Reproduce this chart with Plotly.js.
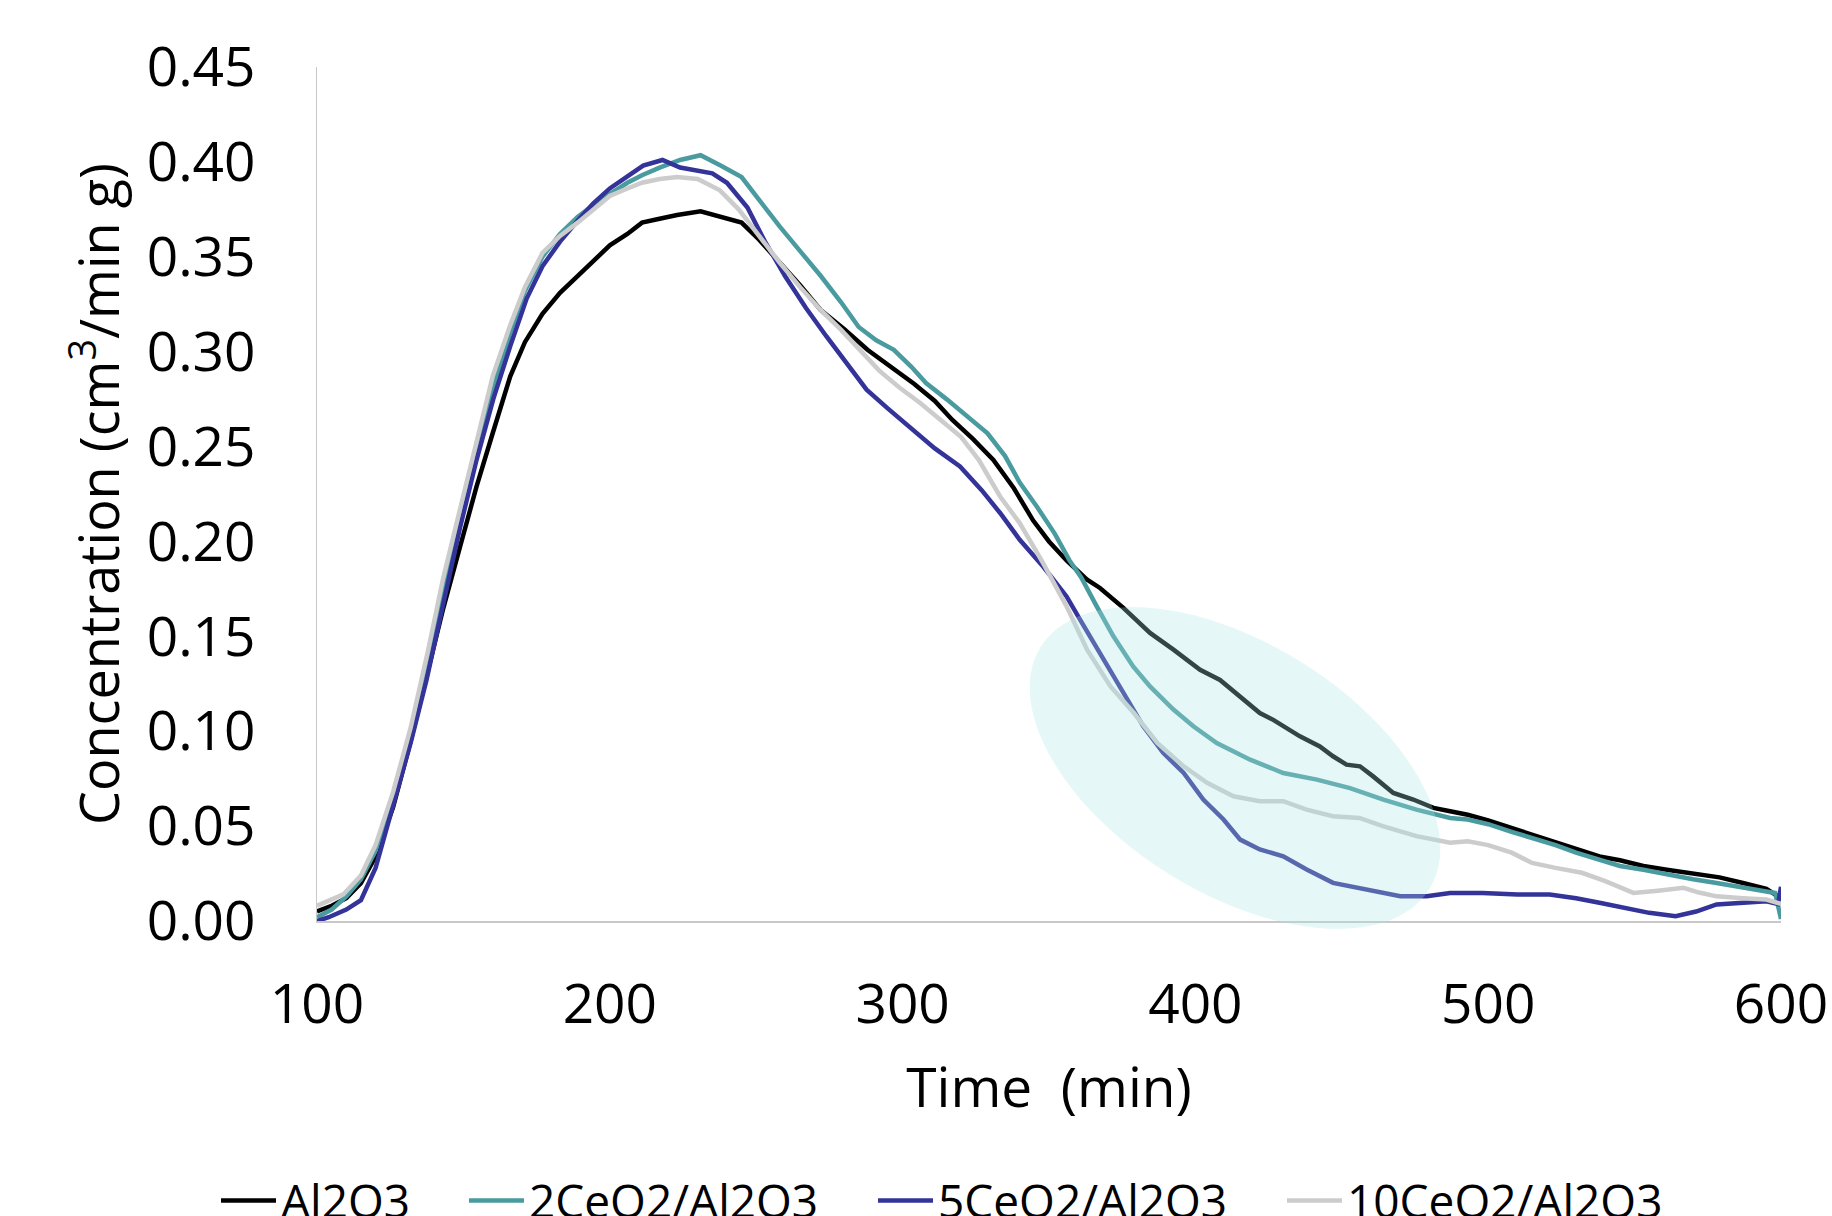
<!DOCTYPE html>
<html>
<head>
<meta charset="utf-8">
<script src="https://cdn.plot.ly/plotly-3.0.1.min.js"></script>
<style>html,body{margin:0;padding:0;background:#fff;}</style>
</head>
<body>
<div id="chart" style="width:1832px;height:1216px;"></div>
<script>
// ---- Data ----
const seriesNames = ["Al2O3", "2CeO2/Al2O3", "5CeO2/Al2O3", "10CeO2/Al2O3"];

const al2o3_t = [100,105,110,115,120,126,132,138,143,149,154.5,160,166,171,177,183,189,195,200,206,211,217,223,231,238,245,251,258,265,272,280,288,296,304,311,317,324,331,338,344.6,350,356,362.9,367.4,375.4,384.5,392.5,401.6,408.4,415.3,422,426.6,435.7,442.5,447,451.6,456.2,460.7,467.6,474.4,481.3,487,493,500,508,515,523,530,538,545,553,561,570,579,587,595,600];
const al2o3_c = [0.005,0.008,0.012,0.02,0.034,0.06,0.095,0.133,0.164,0.198,0.229,0.257,0.287,0.305,0.32,0.331,0.34,0.349,0.356,0.362,0.368,0.37,0.372,0.374,0.371,0.368,0.359,0.347,0.335,0.322,0.312,0.301,0.292,0.283,0.274,0.264,0.254,0.243,0.228,0.211,0.2,0.19,0.18,0.1755,0.165,0.1518,0.143,0.1324,0.127,0.1184,0.1096,0.106,0.0973,0.092,0.0868,0.0824,0.0815,0.0762,0.0675,0.064,0.0596,0.0578,0.056,0.053,0.049,0.045,0.041,0.038,0.034,0.032,0.029,0.027,0.025,0.023,0.02,0.017,0.012];

const ce2_t = [100,105,110,115,120,126,132,138,143,149,154.5,160,166,171,177,183,189,195,200,206,211,217,224,231,238,245,251,258,265,272,279,285,291,297,303,308,315,322,329,335,340,346,352,357,361,366.3,372,378.8,384.5,392.5,399.3,407.3,418.7,430,441.5,452.8,464.2,475.5,487,493,500,508,515,523,530,538,545,553,561,570,578,584,592,598,600];
const ce2_c = [0.002,0.006,0.013,0.022,0.037,0.064,0.099,0.14,0.175,0.213,0.248,0.281,0.31,0.332,0.35,0.362,0.371,0.378,0.383,0.389,0.393,0.397,0.401,0.4035,0.398,0.392,0.38,0.366,0.353,0.34,0.326,0.313,0.306,0.301,0.292,0.2835,0.275,0.266,0.257,0.245,0.231,0.218,0.204,0.19,0.181,0.1658,0.15,0.134,0.1236,0.1114,0.1026,0.0938,0.085,0.078,0.0745,0.07,0.064,0.0587,0.0543,0.0535,0.051,0.047,0.0438,0.04,0.036,0.0324,0.029,0.027,0.0245,0.022,0.02,0.0183,0.016,0.0148,0.001];

const ce5_t = [100,104,110,115,120,126,132,137.4,143,148.8,154.5,160.2,166,171.6,177,183,189,194.3,200,206,211.4,218,224,235,240,247,253,260,267,274,281,287.7,295,303.6,311,319.6,327,333.3,340,348,356,360.6,367.4,375.4,382.2,389,396,402.7,409.6,415.3,422,430,438,447,458.5,470,479,487,498,510,521,530,538,547,555,564,571,578,587,595,599,600];
const ce5_c = [0.0,0.002,0.006,0.011,0.028,0.062,0.094,0.127,0.167,0.207,0.243,0.275,0.303,0.328,0.345,0.358,0.369,0.378,0.386,0.392,0.398,0.401,0.397,0.394,0.389,0.376,0.358,0.3395,0.323,0.308,0.294,0.28,0.27,0.259,0.249,0.2395,0.227,0.215,0.2009,0.1868,0.171,0.1588,0.141,0.12,0.1026,0.0886,0.078,0.064,0.0535,0.0429,0.0377,0.0341,0.0271,0.0201,0.0166,0.013,0.013,0.0148,0.0148,0.014,0.014,0.012,0.0096,0.007,0.0043,0.0025,0.005,0.0087,0.0095,0.0104,0.009,0.018];

const ce10_t = [100,105,109,115,120,126,132,138,143,149,154.5,160,166,171,177,183,189,195,200,206,211,217,223,230,237.6,244,251,258,265,272,279,286,292,299,306,313,320,326,333.3,340,348,356,363,371,379,387,396,404,413,422,430,438,447,456,464,475.5,487,493,500,508,515,523,532,540,549.6,558,566.7,572,578,587,595,600];
const ce10_c = [0.008,0.011,0.014,0.024,0.04,0.068,0.102,0.143,0.18,0.218,0.253,0.287,0.314,0.334,0.352,0.361,0.368,0.376,0.382,0.386,0.389,0.391,0.392,0.391,0.385,0.375,0.3606,0.347,0.334,0.322,0.3115,0.3,0.29,0.281,0.273,0.264,0.255,0.243,0.2237,0.2097,0.1886,0.1658,0.143,0.1236,0.1096,0.0938,0.0815,0.0728,0.0657,0.0631,0.0631,0.0587,0.0552,0.0543,0.05,0.0447,0.0412,0.042,0.04,0.036,0.0306,0.028,0.0254,0.021,0.0148,0.016,0.0175,0.015,0.013,0.012,0.0113,0.009];

const seriesColors = ["#000000", "#4a9ba0", "#333399", "#cccccc"];
const xTickVals = [100, 200, 300, 400, 500, 600];
const yTickVals = [0, 0.05, 0.1, 0.15, 0.2, 0.25, 0.3, 0.35, 0.4, 0.45];

// ---- Layout geometry ----
const W = 1832, H = 1216;
const M = {l: 317, r: 51, t: 67, b: 295, autoexpand: false};
const plotW = W - M.l - M.r, plotH = H - M.t - M.b;
const FONT = "'Open Sans', 'Noto Sans', sans-serif";

// highlight ellipse (pixel geometry, converted to paper coords)
const ell = {cx: 1235, cy: 768, a: 229, b: 125, angleDeg: 31.9};
function ellipsePath(e) {
  const th = e.angleDeg * Math.PI / 180;
  let p = "";
  for (let i = 0; i <= 96; i++) {
    const f = 2 * Math.PI * i / 96;
    const X = e.cx + e.a * Math.cos(f) * Math.cos(th) - e.b * Math.sin(f) * Math.sin(th);
    const Y = e.cy + e.a * Math.cos(f) * Math.sin(th) + e.b * Math.sin(f) * Math.cos(th);
    const xp = (X - M.l) / plotW, yp = (M.t + plotH - Y) / plotH;
    p += (i === 0 ? "M" : "L") + xp.toFixed(5) + "," + yp.toFixed(5);
  }
  return p + "Z";
}

const tData = [al2o3_t, ce2_t, ce5_t, ce10_t];
const cData = [al2o3_c, ce2_c, ce5_c, ce10_c];
const legendIds = ["legend", "legend2", "legend3", "legend4"];
const legendLeftPx = [216, 464, 873, 1282];

const traces = seriesNames.map((n, i) => ({
  x: tData[i], y: cData[i], name: n, type: "scatter", mode: "lines",
  line: {color: seriesColors[i], width: 4.5},
  legend: legendIds[i]
}));

const layout = {
  width: W, height: H,
  margin: M,
  paper_bgcolor: "#ffffff", plot_bgcolor: "#ffffff",
  font: {family: FONT, color: "#000000", size: 55},
  showlegend: true,
  xaxis: {
    range: [100, 600], tickvals: xTickVals, ticktext: xTickVals.map(String),
    showgrid: false, zeroline: false, showline: true, linecolor: "#c8c8c8", linewidth: 1.5,
    ticks: "", ticklabelstandoff: 34, automargin: false,
    tickfont: {family: FONT, size: 55, color: "#000"},
    title: {text: "Time\u00a0 (min)", font: {family: FONT, size: 55, color: "#000"}, standoff: 31}
  },
  yaxis: {
    range: [0, 0.45], tickvals: yTickVals, ticktext: yTickVals.map(v => v.toFixed(2)),
    showgrid: false, zeroline: false, showline: true, linecolor: "#c8c8c8", linewidth: 1.5,
    ticks: "", ticklabelstandoff: 49, automargin: false,
    tickfont: {family: FONT, size: 55, color: "#000"},
    title: {text: "Concentration (cm<sup>3</sup>/min g)", font: {family: FONT, size: 54, color: "#000"}, standoff: 10}
  },
  shapes: [{
    type: "path", xref: "paper", yref: "paper", layer: "above",
    path: ellipsePath(ell),
    fillcolor: "rgba(173,227,227,0.3)", line: {width: 0}
  }]
};

legendIds.forEach((id, i) => {
  layout[id] = {
    orientation: "h", x: (legendLeftPx[i] - M.l) / plotW, xanchor: "left",
    y: (M.t + plotH - 1164) / plotH, yanchor: "top",
    bgcolor: "rgba(0,0,0,0)", borderwidth: 0,
    font: {family: FONT, size: 46, color: "#000"},
    itemwidth: 55
  };
});

Plotly.newPlot("chart", traces, layout, {displayModeBar: false, staticPlot: true});
</script>
</body>
</html>
